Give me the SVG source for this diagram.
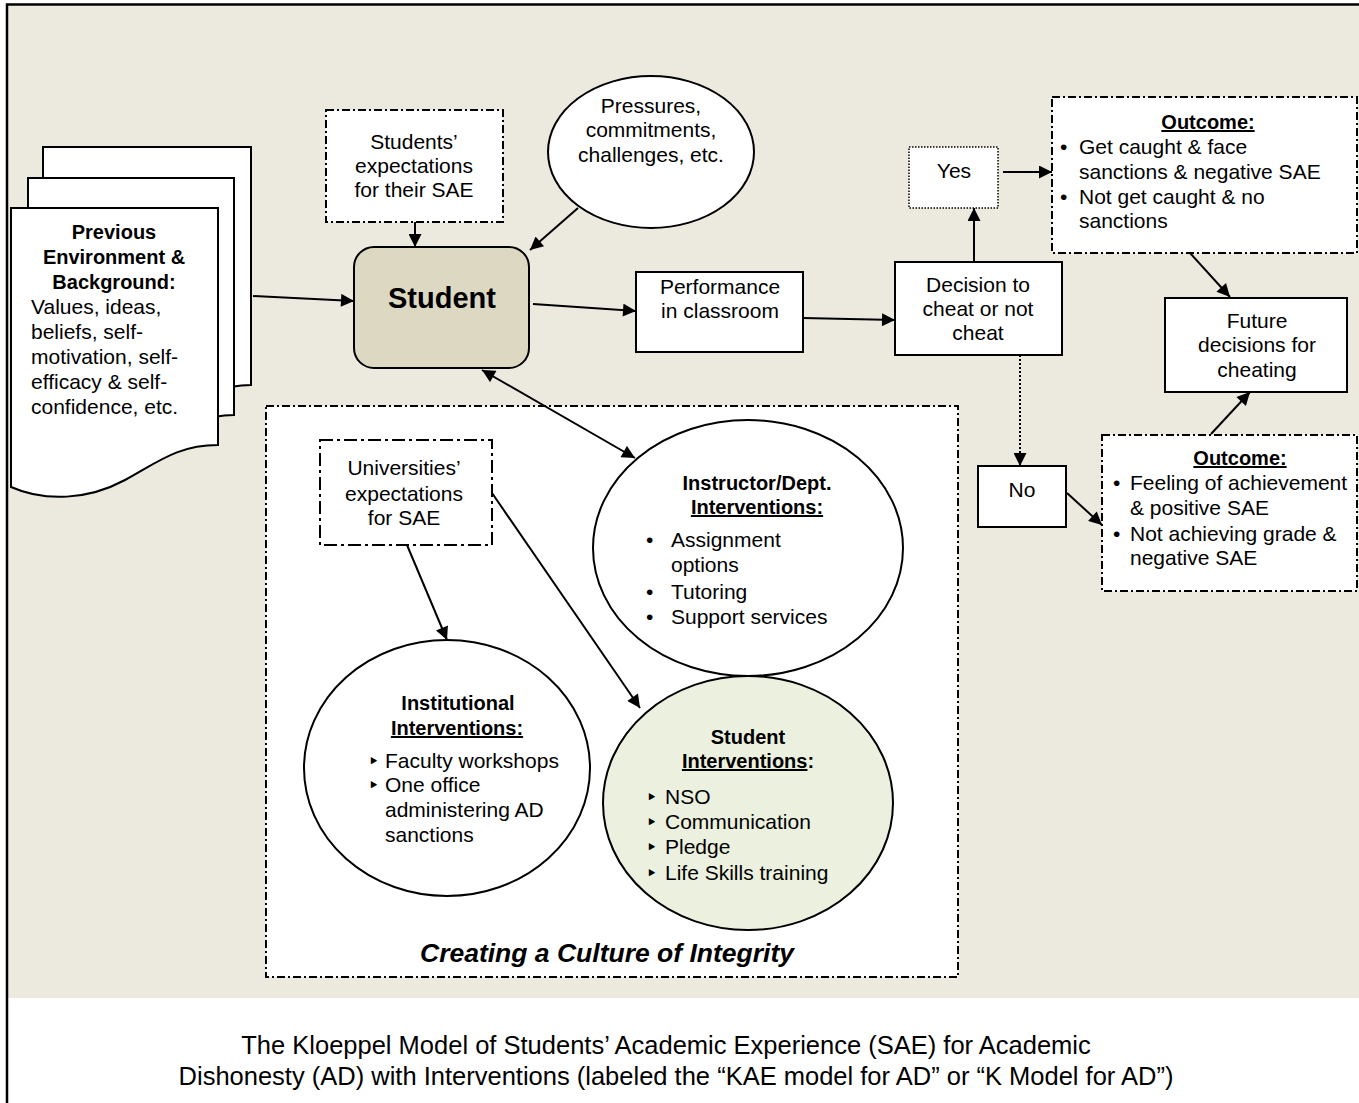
<svg xmlns="http://www.w3.org/2000/svg" width="1359" height="1103" viewBox="0 0 1359 1103">
<style>
text{font-family:"Liberation Sans",Arial,sans-serif;font-size:21px;fill:#000}
.b{font-weight:bold;font-size:20px}
.c{text-anchor:middle}
.u{text-decoration:underline}
.box{fill:#fff;stroke:#000;stroke-width:2}
.dd{fill:#fff;stroke:#000;stroke-width:2;stroke-dasharray:8 3 2 3}
.ld{fill:#fff;stroke:#000;stroke-width:2;stroke-dasharray:13 4 3 4}
.dot{fill:#fff;stroke:#000;stroke-width:1.5;stroke-dasharray:1.5 1.5}
.ell{fill:#fff;stroke:#000;stroke-width:2}
.con line{stroke:#000;stroke-width:2;marker-end:url(#ah)}
.tb{font-family:"DejaVu Sans",sans-serif;font-size:19px}
</style>
<defs>
<marker id="ah" viewBox="0 0 10 10" refX="10" refY="5" markerWidth="15" markerHeight="13" markerUnits="userSpaceOnUse" orient="auto-start-reverse"><path d="M0,0 L10,5 L0,10 z" fill="#000"/></marker>
</defs>
<rect x="7" y="5" width="1360" height="1100" fill="#fff"/>
<rect x="8" y="6" width="1360" height="992" fill="#ECE9DF"/>
<path d="M7,1103 V4.5 H1359" fill="none" stroke="#000" stroke-width="2.5"/>

<g id="previous-environment">
<path d="M43,147 H251 V385 C215,385 200,400 170,418 C130,440 80,440 43,425 Z" class="box"/>
<path d="M28,178 H234 V415 C198,415 183,430 153,448 C113,470 63,470 28,455 Z" class="box"/>
<path d="M11,208 H218 V445 C178,445 158,462 125,480 C88,500 45,502 11,487 Z" class="box"/>
<text class="b c" x="114" y="239">Previous</text>
<text class="b c" x="114" y="264">Environment &amp;</text>
<text class="b c" x="114" y="289">Background:</text>
<text x="31" y="314">Values, ideas,</text>
<text x="31" y="339">beliefs, self-</text>
<text x="31" y="364">motivation, self-</text>
<text x="31" y="389">efficacy &amp; self-</text>
<text x="31" y="414">confidence, etc.</text>
</g>

<g id="students-expectations">
<rect x="326" y="110" width="177" height="112" class="dd"/>
<text class="c" x="414" y="149">Students’</text>
<text class="c" x="414" y="173">expectations</text>
<text class="c" x="414" y="197">for their SAE</text>
</g>

<g id="pressures">
<ellipse cx="651" cy="152" rx="103" ry="76" class="ell"/>
<text class="c" x="651" y="113">Pressures,</text>
<text class="c" x="651" y="137">commitments,</text>
<text class="c" x="651" y="162">challenges, etc.</text>
</g>

<g id="student">
<rect x="354" y="247" width="175" height="121" rx="20" fill="#DDD8C2" stroke="#000" stroke-width="2"/>
<text class="c" x="442" y="308" style="font-weight:bold;font-size:29px">Student</text>
</g>

<g id="performance">
<rect x="636" y="272" width="167" height="80" class="box"/>
<text class="c" x="720" y="294">Performance</text>
<text class="c" x="720" y="318">in classroom</text>
</g>

<g id="decision">
<rect x="895" y="262" width="167" height="93" class="box"/>
<text class="c" x="978" y="292">Decision to</text>
<text class="c" x="978" y="316">cheat or not</text>
<text class="c" x="978" y="340">cheat</text>
</g>

<g id="yes">
<rect x="909" y="147" width="89" height="61" class="dot"/>
<text class="c" x="954" y="178">Yes</text>
</g>

<g id="outcome-cheat">
<rect x="1052" y="97" width="305" height="156" class="dd"/>
<text class="b c u" x="1208" y="129">Outcome:</text>
<text x="1060" y="154">•</text>
<text x="1079" y="154">Get caught &amp; face</text>
<text x="1079" y="179">sanctions &amp; negative SAE</text>
<text x="1060" y="204">•</text>
<text x="1079" y="204">Not get caught &amp; no</text>
<text x="1079" y="228">sanctions</text>
</g>

<g id="future">
<rect x="1165" y="298" width="182" height="94" class="box"/>
<text class="c" x="1257" y="328">Future</text>
<text class="c" x="1257" y="352">decisions for</text>
<text class="c" x="1257" y="377">cheating</text>
</g>

<g id="no">
<rect x="978" y="466" width="88" height="61" class="box"/>
<text class="c" x="1022" y="497">No</text>
</g>

<g id="outcome-not-cheat">
<rect x="1102" y="435" width="255" height="156" class="dd"/>
<text class="b c u" x="1240" y="465">Outcome:</text>
<text x="1113" y="490">•</text>
<text x="1130" y="490">Feeling of achievement</text>
<text x="1130" y="515">&amp; positive SAE</text>
<text x="1113" y="541">•</text>
<text x="1130" y="541">Not achieving  grade &amp;</text>
<text x="1130" y="565">negative SAE</text>
</g>

<g id="culture-of-integrity">
<rect x="266" y="406" width="692" height="571" class="dd"/>
<text class="c" x="607" y="962" style="font-weight:bold;font-style:italic;font-size:26.5px">Creating a Culture of Integrity</text>
</g>

<g id="universities-expectations">
<rect x="320" y="440" width="172" height="105" class="ld"/>
<text class="c" x="404" y="475">Universities’</text>
<text class="c" x="404" y="501">expectations</text>
<text class="c" x="404" y="525">for SAE</text>
</g>

<g id="instructor-interventions">
<ellipse cx="748" cy="548" rx="155" ry="128" class="ell"/>
<text class="b c" x="757" y="490">Instructor/Dept.</text>
<text class="b c u" x="757" y="514">Interventions:</text>
<text x="646" y="547">•</text>
<text x="671" y="547">Assignment</text>
<text x="671" y="572">options</text>
<text x="646" y="599">•</text>
<text x="671" y="599">Tutoring</text>
<text x="646" y="624">•</text>
<text x="671" y="624">Support services</text>
</g>

<g id="institutional-interventions">
<ellipse cx="447" cy="768" rx="143" ry="128" class="ell"/>
<text class="b c" x="458" y="710">Institutional</text>
<text class="b c u" x="457" y="735">Interventions:</text>
<text class="tb" x="368" y="768">‣</text>
<text x="385" y="768">Faculty workshops</text>
<text class="tb" x="368" y="792">‣</text>
<text x="385" y="792">One office</text>
<text x="385" y="817">administering AD</text>
<text x="385" y="842">sanctions</text>
</g>

<g id="student-interventions">
<ellipse cx="748" cy="803" rx="145" ry="127" fill="#EBF1DE" stroke="#000" stroke-width="2"/>
<text class="b c" x="748" y="744">Student</text>
<text class="b c" x="748" y="768"><tspan class="u">Interventions</tspan>:</text>
<text class="tb" x="646" y="804">‣</text>
<text x="665" y="804"> NSO</text>
<text class="tb" x="646" y="829">‣</text>
<text x="665" y="829">Communication</text>
<text class="tb" x="646" y="854">‣</text>
<text x="665" y="854">Pledge</text>
<text class="tb" x="646" y="880">‣</text>
<text x="665" y="880">Life Skills training</text>
</g>

<g id="connectors" class="con">
<line x1="253" y1="296" x2="354" y2="301"/>
<line x1="415" y1="222" x2="415" y2="247"/>
<line x1="578" y1="208" x2="530" y2="250"/>
<line x1="533" y1="304" x2="636" y2="311"/>
<line x1="803" y1="318" x2="895" y2="320"/>
<line x1="974" y1="262" x2="974" y2="208"/>
<line x1="1003" y1="172" x2="1052" y2="172"/>
<line x1="1020" y1="355" x2="1020" y2="466" style="stroke-dasharray:2 2"/>
<line x1="1067" y1="493" x2="1102" y2="525"/>
<line x1="1190" y1="253" x2="1230" y2="297"/>
<line x1="1211" y1="434" x2="1250" y2="392"/>
<line x1="482" y1="370" x2="635" y2="458" style="marker-start:url(#ah)"/>
<line x1="407" y1="545" x2="447" y2="640"/>
<line x1="492" y1="493" x2="640" y2="708"/>
</g>

<g id="caption">
<text class="c" x="666" y="1054" style="font-size:25.5px">The Kloeppel Model of Students’ Academic Experience (SAE) for Academic</text>
<text class="c" x="676" y="1085" style="font-size:25.5px">Dishonesty (AD) with Interventions (labeled the “KAE model for AD” or “K Model for AD”)</text>
</g>
</svg>
